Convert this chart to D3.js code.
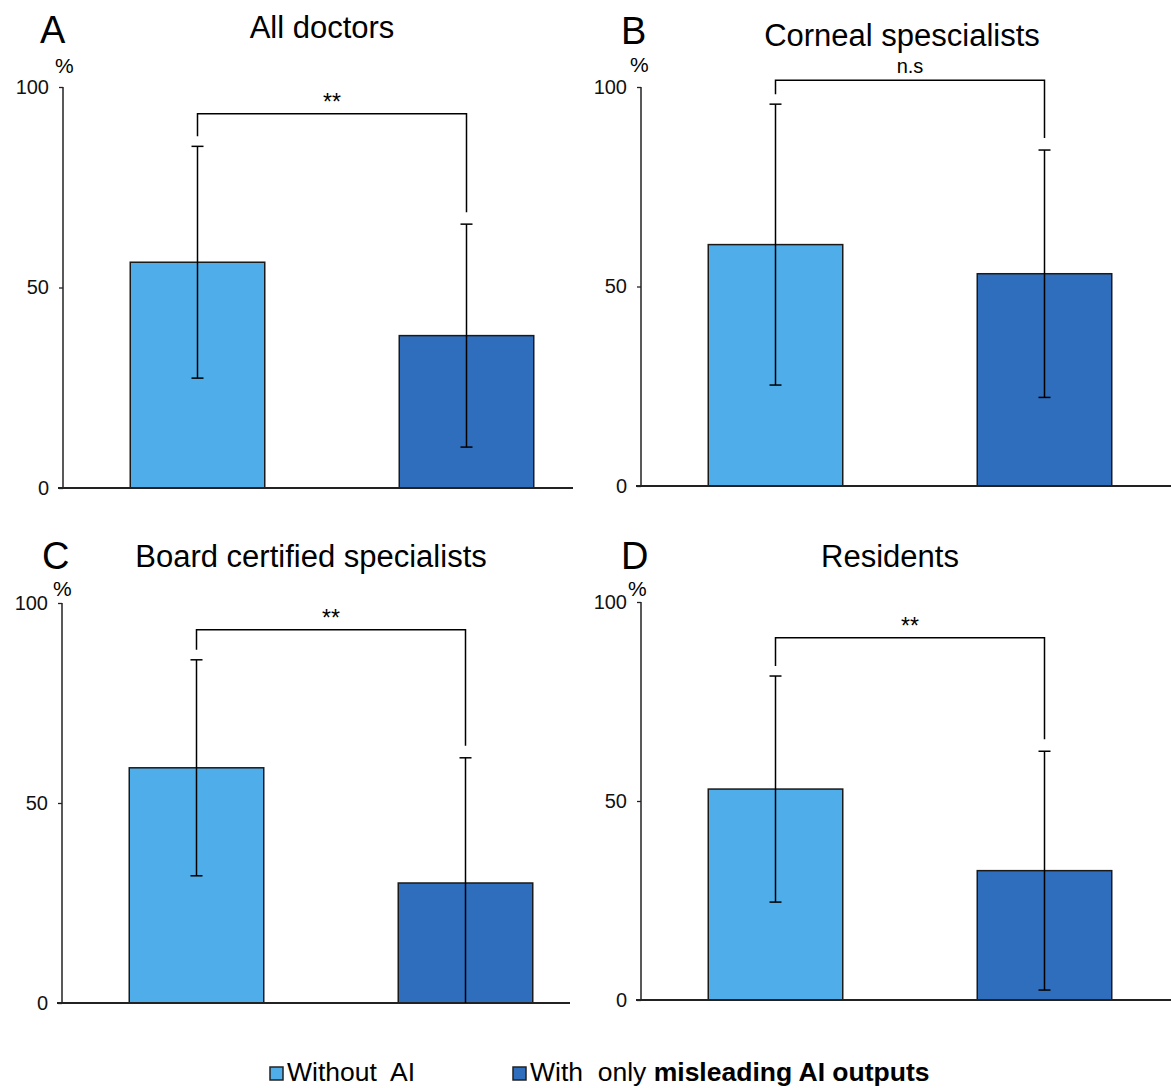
<!DOCTYPE html>
<html>
<head>
<meta charset="utf-8">
<script src="https://cdn.jsdelivr.net/npm/d3@7"></script>
<style>
  body { margin: 0; background: #fff; }
  svg { display: block; font-family: "Liberation Sans", Arial, Helvetica, sans-serif; }
</style>
</head>
<body>
<div id="chart"></div>
<script>
// values (percent)
const panelLetters = ["A", "B", "C", "D"];
const panelTitles = ["All doctors", "Corneal spescialists", "Board certified specialists", "Residents"];
const groups = ["Without AI", "With only misleading AI outputs"];
const meanWithout = [56.3, 60.5, 58.8, 53.0];
const sdWithout = [28.9, 35.2, 27.0, 28.4];
const meanWith = [38.0, 53.2, 30.0, 32.5];
const sdWith = [27.8, 31.0, 31.3, 30.0];
const bracketLevel = [93.3, 101.7, 93.3, 91.0];
const sigLabels = ["**", "n.s", "**", "**"];
const yTicks = [0, 50, 100];

const colors = ["#4FADE9", "#2E6EBD"];

// panel frames (pixel layout)
const frames = [
  { left: 63, top: 87, bottom: 488, axisEnd: 573, title: [322, 38], letter: [40, 43], pct: [55, 73] },
  { left: 641, top: 87, bottom: 486, axisEnd: 1171, title: [902, 46], letter: [621, 44], pct: [630, 72] },
  { left: 62, top: 603, bottom: 1003, axisEnd: 570, title: [311, 567], letter: [42, 569], pct: [53, 596] },
  { left: 641, top: 602, bottom: 1000, axisEnd: 1171, title: [890, 567], letter: [621, 569], pct: [628, 596] }
];

const W = 1171, H = 1088;
const svg = d3.select("#chart").append("svg")
  .attr("width", W)
  .attr("height", H);

frames.forEach(function(f, i) {
  var g = svg.append("g");

  var y = d3.scaleLinear().domain([0, 100]).range([f.bottom, f.top]);
  var x = d3.scaleBand().domain(groups)
    .range([f.left, f.left + 538])
    .paddingInner(0.5)
    .paddingOuter(0.25);

  var rows = [
    { group: groups[0], mean: meanWithout[i], sd: sdWithout[i] },
    { group: groups[1], mean: meanWith[i], sd: sdWith[i] }
  ];

  // y axis
  var yAxis = d3.axisLeft(y).tickValues(yTicks).tickSize(4).tickPadding(10);
  var ya = g.append("g")
    .attr("transform", "translate(" + f.left + ",0)")
    .call(yAxis);
  ya.select(".domain").remove();
  ya.selectAll(".tick line").attr("stroke", "#222").attr("stroke-width", 1.3);
  ya.selectAll(".tick text")
    .attr("font-size", 20)
    .attr("fill", "#111")
    .attr("font-family", "Liberation Sans, Arial, sans-serif");
  g.append("line")
    .attr("x1", f.left).attr("x2", f.left)
    .attr("y1", y(100)).attr("y2", y(0))
    .attr("stroke", "#222").attr("stroke-width", 1.5);

  // bars
  g.selectAll("rect.bar")
    .data(rows)
    .enter()
    .append("rect")
    .attr("class", "bar")
    .attr("x", function(d) { return x(d.group); })
    .attr("width", x.bandwidth())
    .attr("y", function(d) { return y(d.mean); })
    .attr("height", function(d) { return y(0) - y(d.mean); })
    .attr("fill", function(d, j) { return colors[j]; })
    .attr("stroke", "#1a1a1a")
    .attr("stroke-width", 1.5);

  // x axis line
  g.append("line")
    .attr("x1", f.left - 5).attr("x2", f.axisEnd)
    .attr("y1", y(0)).attr("y2", y(0))
    .attr("stroke", "#222").attr("stroke-width", 2);

  // error bars
  rows.forEach(function(d) {
    var cx = x(d.group) + x.bandwidth() / 2;
    var hi = y(d.mean + d.sd);
    var lo = y(Math.max(0, d.mean - d.sd));
    g.append("line")
      .attr("x1", cx).attr("x2", cx)
      .attr("y1", hi).attr("y2", lo)
      .attr("stroke", "#000").attr("stroke-width", 1.5);
    g.append("line")
      .attr("x1", cx - 6).attr("x2", cx + 6)
      .attr("y1", hi).attr("y2", hi)
      .attr("stroke", "#000").attr("stroke-width", 1.5);
    if (d.mean - d.sd > 0) {
      g.append("line")
        .attr("x1", cx - 6).attr("x2", cx + 6)
        .attr("y1", lo).attr("y2", lo)
        .attr("stroke", "#000").attr("stroke-width", 1.5);
    }
  });

  // significance bracket
  var bx1 = x(groups[0]) + x.bandwidth() / 2;
  var bx2 = x(groups[1]) + x.bandwidth() / 2;
  var by = y(bracketLevel[i]);
  var leg1 = y(rows[0].mean + rows[0].sd) - 10;
  var leg2 = y(rows[1].mean + rows[1].sd) - 12;
  g.append("path")
    .attr("d", "M" + bx1 + "," + leg1 + "V" + by + "H" + bx2 + "V" + leg2)
    .attr("fill", "none")
    .attr("stroke", "#000")
    .attr("stroke-width", 1.5);
  g.append("text")
    .attr("x", (bx1 + bx2) / 2)
    .attr("y", sigLabels[i] === "n.s" ? by - 7 : by - 4)
    .attr("text-anchor", "middle")
    .attr("font-size", sigLabels[i] === "n.s" ? 20 : 23)
    .text(sigLabels[i]);

  // title, letter, unit
  g.append("text")
    .attr("x", f.title[0]).attr("y", f.title[1])
    .attr("text-anchor", "middle")
    .attr("font-size", 31)
    .text(panelTitles[i]);
  g.append("text")
    .attr("x", f.letter[0]).attr("y", f.letter[1])
    .attr("font-size", 38)
    .text(panelLetters[i]);
  g.append("text")
    .attr("x", f.pct[0]).attr("y", f.pct[1])
    .attr("font-size", 21)
    .text("%");
});

// legend
var legend = svg.append("g");
var lx = [270, 513];
legend.selectAll("rect")
  .data(groups)
  .enter()
  .append("rect")
  .attr("x", function(d, j) { return lx[j]; })
  .attr("y", 1067)
  .attr("width", 13)
  .attr("height", 13)
  .attr("fill", function(d, j) { return colors[j]; })
  .attr("stroke", "#222")
  .attr("stroke-width", 1.5);

var t1 = legend.append("text")
  .attr("x", lx[0] + 17).attr("y", 1081)
  .attr("font-size", 26.5)
  .style("white-space", "pre");
t1.append("tspan").text("Without  AI");

var t2 = legend.append("text")
  .attr("x", lx[1] + 17).attr("y", 1081)
  .attr("font-size", 26.5)
  .style("white-space", "pre");
t2.append("tspan").text("With  only ");
t2.append("tspan").attr("font-weight", "bold").text("misleading AI outputs");
</script>
</body>
</html>
